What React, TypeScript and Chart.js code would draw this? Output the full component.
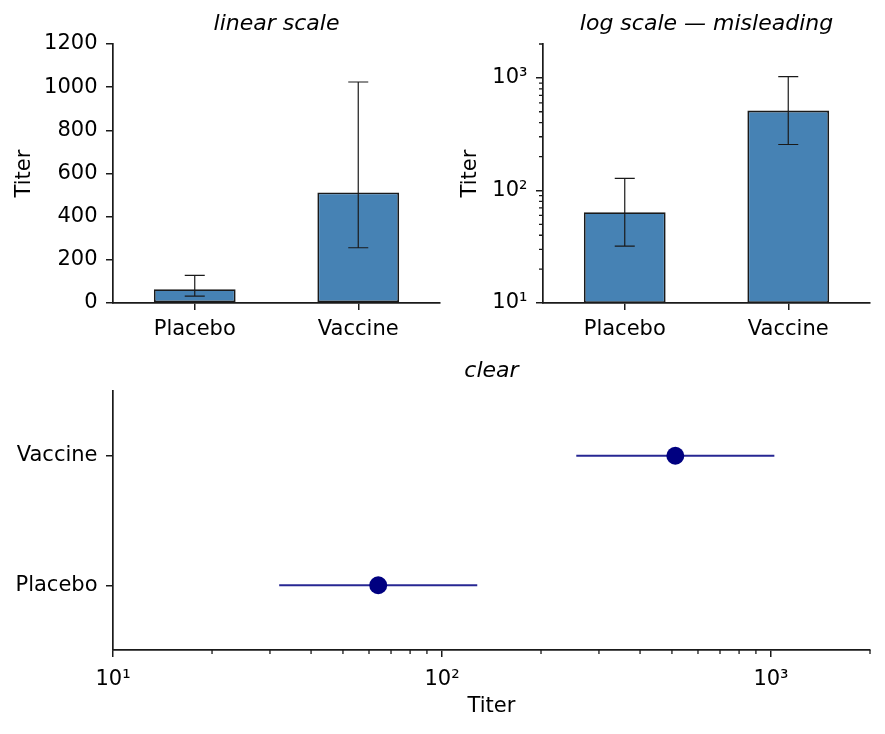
import { Chart, registerables, type ChartConfiguration, type Plugin } from "chart.js";
import type React from "react";
import { useEffect, useRef } from "react";

Chart.register(...registerables);

const groups = ["Placebo", "Vaccine"];
const titerMean = [64, 512];
const titerLow = [32, 256];
const titerHigh = [128, 1024];

const linearTicks = [0, 200, 400, 600, 800, 1000, 1200];
const logMajorTicks = [10, 100, 1000];
const logMinorTicks = [20, 30, 40, 50, 60, 70, 80, 90, 200, 300, 400, 500, 600, 700, 800, 900, 2000];
const logMin = 10;
const logMax = 2000;
const superscripts: Record<string, string> = { "1": "¹", "2": "²", "3": "³" };

const FONT = "'DejaVu Sans', 'Noto Sans', sans-serif";
const INK = "#1a1a1a";
const BAR_FILL = "#4682b4";
const DOT = "#000080";
const DOT_LINE = "rgba(0, 0, 128, 0.85)";

const powerLabel = (v: string | number) =>
  "10" + superscripts[String(Math.round(Math.log10(Number(v))))];

// error bars drawn from the low/high arrays through the chart's own scales
const drawErrorBars = (chart: Chart, opts: any) => {
  const { ctx } = chart;
  const xs = chart.scales.x;
  const ys = chart.scales.y;
  ctx.save();
  ctx.strokeStyle = opts.color;
  ctx.lineWidth = opts.width;
  titerLow.forEach((lo, i) => {
    const hi = titerHigh[i];
    ctx.beginPath();
    if (opts.horizontal) {
      const y = ys.getPixelForValue(i);
      ctx.moveTo(xs.getPixelForValue(lo), y);
      ctx.lineTo(xs.getPixelForValue(hi), y);
    } else {
      const x = xs.getPixelForValue(i);
      const y1 = ys.getPixelForValue(lo);
      const y2 = ys.getPixelForValue(hi);
      ctx.moveTo(x, y1);
      ctx.lineTo(x, y2);
      ctx.moveTo(x - opts.cap, y1);
      ctx.lineTo(x + opts.cap, y1);
      ctx.moveTo(x - opts.cap, y2);
      ctx.lineTo(x + opts.cap, y2);
    }
    ctx.stroke();
  });
  ctx.restore();
};

const errorBars: Plugin = {
  id: "errorBars",
  beforeDatasetsDraw(chart, _args, opts: any) {
    if (opts.horizontal) drawErrorBars(chart, opts);
  },
  afterDatasetsDraw(chart, _args, opts: any) {
    if (!opts.horizontal) drawErrorBars(chart, opts);
  },
};

// short unlabeled ticks between the decades of a log axis
const minorTicks: Plugin = {
  id: "minorTicks",
  afterDraw(chart, _args, opts: any) {
    const scale = chart.scales[opts.axis];
    if (!scale) return;
    const { ctx, chartArea } = chart;
    ctx.save();
    ctx.strokeStyle = INK;
    ctx.lineWidth = 1.3;
    ctx.beginPath();
    for (const v of logMinorTicks) {
      if (v < scale.min || v > scale.max) continue;
      const p = scale.getPixelForValue(v);
      if (scale.isHorizontal()) {
        ctx.moveTo(p, chartArea.bottom);
        ctx.lineTo(p, chartArea.bottom + 4);
      } else {
        ctx.moveTo(chartArea.left, p);
        ctx.lineTo(chartArea.left - 4, p);
      }
    }
    ctx.stroke();
    ctx.restore();
  },
};

const tickFont = { family: FONT, size: 21 };
const labelFont = { family: FONT, size: 21 };
const titleFont = { family: FONT, size: 22, style: "italic" as const, weight: "normal" as const };
const tickMarks = {
  display: true,
  drawOnChartArea: false,
  drawTicks: true,
  tickLength: 7,
  lineWidth: 1.5,
  color: INK,
  offset: false,
};
const axisLine = { display: true, color: INK, width: 1.7 };

function barConfig(log: boolean): ChartConfiguration<"bar"> {
  const yScale: any = log
    ? {
        type: "logarithmic",
        min: logMin,
        max: logMax,
        afterBuildTicks: (s: any) => {
          s.ticks = logMajorTicks.map((v) => ({ value: v }));
        },
        ticks: { font: tickFont, color: "#000", padding: 8.5, autoSkip: false, callback: powerLabel },
        afterFit: (s: any) => {
          s.width = 98;
        },
        title: { display: true, text: "Titer", color: "#000", font: labelFont, padding: { top: 13.4, bottom: 0 } },
      }
    : {
        type: "linear",
        min: 0,
        max: 1200,
        afterBuildTicks: (s: any) => {
          s.ticks = linearTicks.map((v) => ({ value: v }));
        },
        ticks: {
          font: tickFont,
          color: "#000",
          padding: 8.5,
          autoSkip: false,
          callback: (v: string | number) => String(v),
        },
        afterFit: (s: any) => {
          s.width = 113;
        },
        title: { display: true, text: "Titer", color: "#000", font: labelFont, padding: { top: 12.4, bottom: 0 } },
      };
  yScale.grid = tickMarks;
  yScale.border = axisLine;

  return {
    type: "bar",
    data: {
      labels: groups,
      datasets: [
        {
          data: titerMean,
          backgroundColor: BAR_FILL,
          borderColor: INK,
          borderWidth: 1.8,
          borderSkipped: false,
          barPercentage: 0.5,
          categoryPercentage: 1,
        },
      ],
    },
    options: {
      animation: false,
      responsive: true,
      maintainAspectRatio: false,
      layout: { padding: { left: 0, right: log ? 15 : 5, top: 0, bottom: 0 } },
      plugins: {
        legend: { display: false },
        tooltip: { enabled: false },
        title: {
          display: true,
          text: log ? "log scale — misleading" : "linear scale",
          fullSize: false,
          color: "#000",
          font: titleFont,
          padding: { top: 11.3, bottom: 6.3 },
        },
        errorBars: { color: INK, width: 1.2, cap: 10 },
        minorTicks: { axis: "y" },
      } as any,
      scales: {
        x: {
          type: "category",
          offset: true,
          grid: tickMarks,
          border: axisLine,
          ticks: { font: tickFont, color: "#000", padding: 6.5, maxRotation: 0 },
          afterFit: (s: any) => {
            s.height = 47;
          },
        },
        y: yScale,
      },
    },
    plugins: log ? [errorBars, minorTicks] : [errorBars],
  };
}

function dotConfig(): ChartConfiguration<"scatter"> {
  return {
    type: "scatter",
    data: {
      datasets: [
        {
          data: groups.map((_, i) => ({ x: titerMean[i], y: i })),
          pointRadius: 9,
          pointBackgroundColor: DOT,
          pointBorderColor: DOT,
          pointBorderWidth: 0,
        },
      ],
    },
    options: {
      animation: false,
      responsive: true,
      maintainAspectRatio: false,
      layout: { padding: { left: 0, right: 15, top: 0, bottom: 0 } },
      plugins: {
        legend: { display: false },
        tooltip: { enabled: false },
        title: {
          display: true,
          text: "clear",
          fullSize: false,
          color: "#000",
          font: titleFont,
          padding: { top: 7.4, bottom: 6.2 },
        },
        errorBars: { horizontal: true, color: DOT_LINE, width: 2 },
        minorTicks: { axis: "x" },
      } as any,
      scales: {
        x: {
          type: "logarithmic",
          min: logMin,
          max: logMax,
          grid: tickMarks,
          border: axisLine,
          afterBuildTicks: (s: any) => {
            s.ticks = logMajorTicks.map((v) => ({ value: v }));
          },
          ticks: { font: tickFont, color: "#000", padding: 9.5, autoSkip: false, maxRotation: 0, callback: powerLabel },
          title: { display: true, text: "Titer", color: "#000", font: labelFont, padding: { top: 0, bottom: 14.9 } },
          afterFit: (s: any) => {
            s.height = 84;
          },
        },
        y: {
          type: "linear",
          min: -0.5,
          max: 1.5,
          grid: tickMarks,
          border: axisLine,
          afterBuildTicks: (s: any) => {
            s.ticks = groups.map((_, i) => ({ value: i }));
          },
          ticks: {
            font: tickFont,
            color: "#000",
            padding: 8.5,
            autoSkip: false,
            callback: (v: string | number) => groups[Number(v)] ?? "",
          },
          afterFit: (s: any) => {
            s.width = 113;
          },
        },
      },
    },
    plugins: [errorBars, minorTicks],
  };
}

type PanelProps = {
  build: () => ChartConfiguration<any>;
  style: React.CSSProperties;
};

const Panel: React.FC<PanelProps> = ({ build, style }) => {
  const canvasRef = useRef<HTMLCanvasElement | null>(null);

  useEffect(() => {
    if (!canvasRef.current) return;
    const chart = new Chart(canvasRef.current, build());
    return () => {
      chart.destroy();
    };
  }, [build]);

  return (
    <div style={{ position: "absolute", ...style }}>
      <canvas ref={canvasRef}></canvas>
    </div>
  );
};

const buildLinear = () => barConfig(false);
const buildLog = () => barConfig(true);

export default function App() {
  return (
    <div
      style={{
        position: "fixed",
        left: 0,
        top: 0,
        width: 885,
        height: 734,
        background: "#fff",
        overflow: "hidden",
      }}
    >
      <Panel build={buildLinear} style={{ left: 0, top: 0, width: 445, height: 350 }} />
      <Panel build={buildLog} style={{ left: 445, top: 0, width: 440, height: 350 }} />
      <Panel build={dotConfig} style={{ left: 0, top: 351, width: 885, height: 383 }} />
    </div>
  );
}
